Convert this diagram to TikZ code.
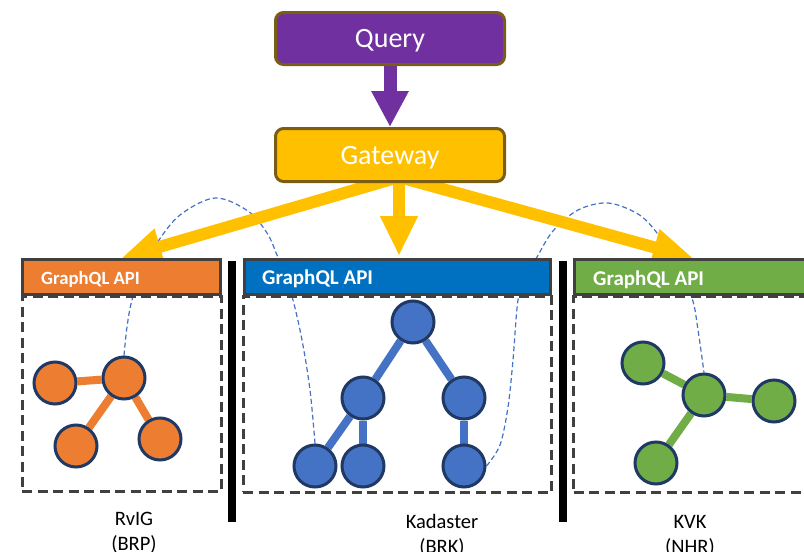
\documentclass[tikz,border=0pt]{standalone}
\usepackage{fontspec}
\setmainfont{Carlito}
\usetikzlibrary{arrows.meta}
\definecolor{qpurple}{HTML}{7030A0}
\definecolor{gwyellow}{HTML}{FFC000}
\definecolor{boxedge}{HTML}{7A5C12}
\definecolor{apiorange}{HTML}{ED7D31}
\definecolor{apiblue}{HTML}{0070C0}
\definecolor{apigreen}{HTML}{70AD47}
\definecolor{nodeblue}{HTML}{4472C4}
\definecolor{navy}{HTML}{1F3864}
\definecolor{hdredge}{HTML}{404040}
\pgfdeclarelayer{low}
\pgfdeclarelayer{mid}
\pgfsetlayers{low,mid,main}
\begin{document}
\begin{tikzpicture}[x=1pt,y=-1pt,
  box/.style={draw=boxedge, line width=3pt, rounded corners=8pt,
    minimum width=229pt, inner sep=0pt, text=white,
    font=\fontsize{28}{32}\selectfont, text height=18pt, text depth=0pt},
  hdr/.style={draw=hdredge, line width=3pt, minimum height=35pt, inner sep=0pt},
  hdrtext/.style={anchor=base west, inner sep=0pt, text=white,
    font=\bfseries\fontsize{21}{24}\selectfont},
  bodybox/.style={draw=hdredge, line width=3pt, dash pattern=on 10pt off 5.5pt,
    inner sep=0pt},
  tnode/.style={circle, draw=navy, line width=3pt, minimum size=42pt, inner sep=0pt},
  tedge/.style={line width=8pt},
  link/.style={draw=nodeblue, line width=1.2pt, dash pattern=on 5pt off 3pt},
  garrow/.style={draw=gwyellow, line width=12pt,
    -{Triangle[length=40pt,width=35pt]}},
  parrow/.style={draw=qpurple, line width=13pt,
    -{Triangle[length=36pt,width=35pt]}},
  bar/.style={line width=7.5pt, draw=black},
  lbl/.style={anchor=base, align=center, inner sep=0pt,
    font=\fontsize{20.5}{25}\selectfont}]
\useasboundingbox (0,0) rectangle (804,552);
\clip (0,0) rectangle (804,552);

% top boxes
\node[box, fill=qpurple, minimum height=52pt] (q) at (390,38.5) {Query};
\node[box, fill=gwyellow, minimum height=53pt] (gw) at (390,155) {Gateway};

% panel bodies
\node[bodybox, minimum width=199.5pt, minimum height=195pt] (p1) at (121.75,393.5) {};
\node[bodybox, minimum width=308.5pt, minimum height=196pt] (p2) at (397.5,394) {};
\node[bodybox, minimum width=260pt, minimum height=196pt] (p3) at (703.5,394) {};

% panel headers
\node[hdr, fill=apiorange, minimum width=198pt] (h1) at (121.5,277) {};
\node[hdr, fill=apiblue, minimum width=306pt] (h2) at (397.5,277) {};
\node[hdr, fill=apigreen, minimum width=254pt] (h3) at (701.5,277) {};
\node[hdrtext, font=\bfseries\fontsize{18.7}{22}\selectfont] (t1) at (41,284) {GraphQL API};
\node[hdrtext] (t2) at (262,284) {GraphQL API};
\node[hdrtext] (t3) at (593,285) {GraphQL API};

% separators
\draw[bar] (232,261) -- (232,522);
\draw[bar] (563,261) -- (563,522);

% orange graph
\node[tnode, fill=apiorange] (o1) at (55,383) {};
\node[tnode, fill=apiorange] (o2) at (124,378) {};
\node[tnode, fill=apiorange] (o3) at (76,446) {};
\node[tnode, fill=apiorange] (o4) at (160,439) {};
% blue tree
\node[tnode, fill=nodeblue] (b1) at (413,322) {};
\node[tnode, fill=nodeblue] (b2) at (363,398) {};
\node[tnode, fill=nodeblue] (b3) at (464,398) {};
\node[tnode, fill=nodeblue] (b4) at (315,466) {};
\node[tnode, fill=nodeblue] (b5) at (363,466) {};
\node[tnode, fill=nodeblue] (b6) at (464,466) {};
% green graph
\node[tnode, fill=apigreen] (g1) at (643,363) {};
\node[tnode, fill=apigreen] (g2) at (704,395) {};
\node[tnode, fill=apigreen] (g3) at (774,401) {};
\node[tnode, fill=apigreen] (g4) at (656,463) {};

\begin{pgfonlayer}{low}
  \draw[tedge, apiorange] (o1) -- (o2);
  \draw[tedge, apiorange] (o2) -- (o3);
  \draw[tedge, apiorange] (o2) -- (o4);
  \draw[tedge, nodeblue] (b1) -- (b2);
  \draw[tedge, nodeblue] (b1) -- (b3);
  \draw[tedge, nodeblue] (b2) -- (b4);
  \draw[tedge, nodeblue] (b2) -- (b5);
  \draw[tedge, nodeblue] (b3) -- (b6);
  \draw[tedge, apigreen] (g1) -- (g2);
  \draw[tedge, apigreen] (g2) -- (g3);
  \draw[tedge, apigreen] (g2) -- (g4);
  % links between the graphs
  \draw[link] plot[smooth, tension=0.55] coordinates {(o2.north) (127,327) (132,300)
    (143,270) (157,243) (180,215) (215,198) (248,211) (267,233) (277,255)
    (285,275) (293,300) (302,340) (310,390) (b4.north)};
  \draw[link] plot[smooth, tension=0.55] coordinates {(b6.east) (500,445) (508,407)
    (513,360) (518,300) (526,276) (537,257) (553,231) (578,210) (608,203)
    (638,214) (657,233) (675,262) (692,298) (698,330) (g2.north)};
\end{pgfonlayer}

\begin{pgfonlayer}{mid}
  \draw[parrow] (q.south) -- (gw.north);
  \draw[garrow] ([xshift=9pt,yshift=6pt]gw.south) -- (h1.north);
  \draw[garrow] ([xshift=9pt,yshift=6pt]gw.south) -- ([xshift=1.5pt,yshift=2pt]h2.north);
  \draw[garrow] ([xshift=9pt,yshift=6pt]gw.south) -- ([xshift=-8.5pt]h3.north);
\end{pgfonlayer}

% panel captions (anchored at the baseline of the second line)
\node[lbl] (l1) at (134,550) {RvIG\\(BRP)};
\node[lbl] (l2) at (442,553) {Kadaster\\(BRK)};
\node[lbl] (l3) at (690,553) {KVK\\(NHR)};
\end{tikzpicture}
\end{document}
